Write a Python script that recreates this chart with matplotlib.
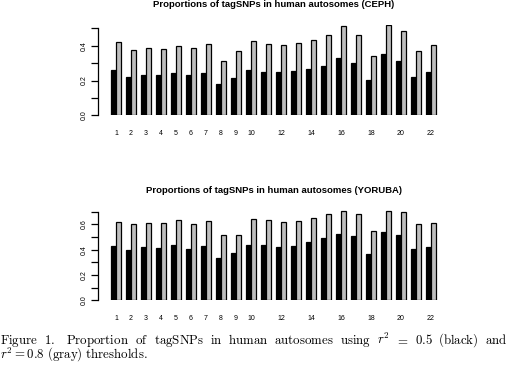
import numpy as np
import matplotlib
matplotlib.use('Agg')
import matplotlib.pyplot as plt

plt.rcParams['font.family'] = ['Liberation Sans', 'DejaVu Sans']
plt.rcParams['mathtext.fontset'] = 'cm'

chroms = list(range(1, 23))
shown_labels = [1, 2, 3, 4, 5, 6, 7, 8, 9, 10, 12, 14, 16, 18, 20, 22]

# CEPH: r2=0.5 (black), r2=0.8 (gray)
ceph_05 = [0.26, 0.22, 0.232, 0.232, 0.243, 0.232, 0.243, 0.18, 0.215, 0.26, 0.249,
           0.249, 0.255, 0.266, 0.284, 0.33, 0.30, 0.203, 0.352, 0.312, 0.22, 0.249]
ceph_08 = [0.42, 0.374, 0.385, 0.379, 0.397, 0.385, 0.408, 0.31, 0.368, 0.425, 0.408,
           0.402, 0.414, 0.431, 0.46, 0.511, 0.46, 0.339, 0.517, 0.483, 0.368, 0.402]

# YORUBA
yor_05 = [0.429, 0.397, 0.421, 0.413, 0.437, 0.405, 0.429, 0.334, 0.374, 0.437, 0.437,
          0.421, 0.429, 0.461, 0.492, 0.524, 0.508, 0.366, 0.539, 0.516, 0.405, 0.421]
yor_08 = [0.616, 0.60, 0.608, 0.608, 0.632, 0.60, 0.624, 0.513, 0.513, 0.639, 0.632,
          0.616, 0.624, 0.647, 0.679, 0.703, 0.679, 0.545, 0.703, 0.695, 0.60, 0.608]

W, H = 519, 365
fig = plt.figure(figsize=(W / 100, H / 100), dpi=100)


def panel(y0_px, ytop_px, ymax_tick, title, black, gray, title_y):
    # y0_px: pixel row of value 0, ytop_px: pixel row of top tick
    ppu = (y0_px - ytop_px) / ymax_tick
    ylim_top = ymax_tick + 0.02
    top_px = y0_px - ylim_top * ppu
    left, right = 98, 449
    ax = fig.add_axes([left / W, (H - y0_px) / H, (right - left) / W, (y0_px - top_px) / H])
    n = len(chroms)
    xb = 3 * np.arange(n) + 1
    ax.bar(xb, black, width=1, align='edge', color='black', edgecolor='black', linewidth=0.9)
    ax.bar(xb + 1, gray, width=1, align='edge', color='#bebebe', edgecolor='black', linewidth=0.9)
    ax.set_xlim(-1.6, 68.6)
    ax.set_ylim(0, ylim_top)
    for s in ['top', 'right', 'bottom']:
        ax.spines[s].set_visible(False)
    ax.spines['left'].set_bounds(0, ymax_tick)
    ax.spines['left'].set_linewidth(0.9)
    yt = np.round(np.arange(0, ymax_tick + 0.001, 0.1), 1)
    ax.set_yticks(yt)
    ax.set_yticklabels(['%.1f' % v if i % 2 == 0 else '' for i, v in enumerate(yt)],
                       rotation=90, va='center', fontsize=5)
    ax.tick_params(axis='y', length=5, width=0.9, pad=2.5)
    ax.set_xticks([3 * (c - 1) + 2 for c in shown_labels])
    ax.set_xticklabels([str(c) for c in shown_labels], fontsize=5)
    ax.tick_params(axis='x', length=0, pad=10.8)
    fig.text(273.5 / W, 1 - title_y / H, title, ha='center', va='center',
             fontsize=6.8, fontweight='bold')
    return ax


panel(115.3, 28.3, 0.5, 'Proportions of tagSNPs in human autosomes (CEPH)', ceph_05, ceph_08, 4.5)
panel(300.3, 211.7, 0.7, 'Proportions of tagSNPs in human autosomes (YORUBA)', yor_05, yor_08, 191)

# caption: first line justified between x=0 and x=507 px, Computer Modern via mathtext
cap_size = 9.3
words1 = [r'$\mathrm{Figure}$', r'$\mathrm{1.}$', r'$\mathrm{Proportion}$', r'$\mathrm{of}$',
          r'$\mathrm{tagSNPs}$', r'$\mathrm{in}$', r'$\mathrm{human}$', r'$\mathrm{autosomes}$',
          r'$\mathrm{using}$', r'$r^2$', r'$=$', r'$\mathrm{0.5}$', r'$\mathrm{(black)}$',
          r'$\mathrm{and}$']
gap_weight = [1, 2, 1, 1, 1, 1, 1, 1, 1, 1, 1, 1, 1]  # wider gap after "1."
base1 = 1 - 344.0 / H
texts = [fig.text(0, base1, w, ha='left', va='baseline', fontsize=cap_size) for w in words1]
fig.canvas.draw()
r = fig.canvas.get_renderer()
widths = [t.get_window_extent(r).width for t in texts]
line_w = 507
unit = (line_w - sum(widths)) / sum(gap_weight)
x = 0
for i, t in enumerate(texts):
    t.set_x(x / W)
    x += widths[i] + (unit * gap_weight[i] if i < len(gap_weight) else 0)
fig.text(0, 1 - 359.0 / H, r'$r^2 = 0.8\ \mathrm{(gray)\ thresholds.}$',
         ha='left', va='baseline', fontsize=cap_size)

fig.savefig('out.png', dpi=100)
